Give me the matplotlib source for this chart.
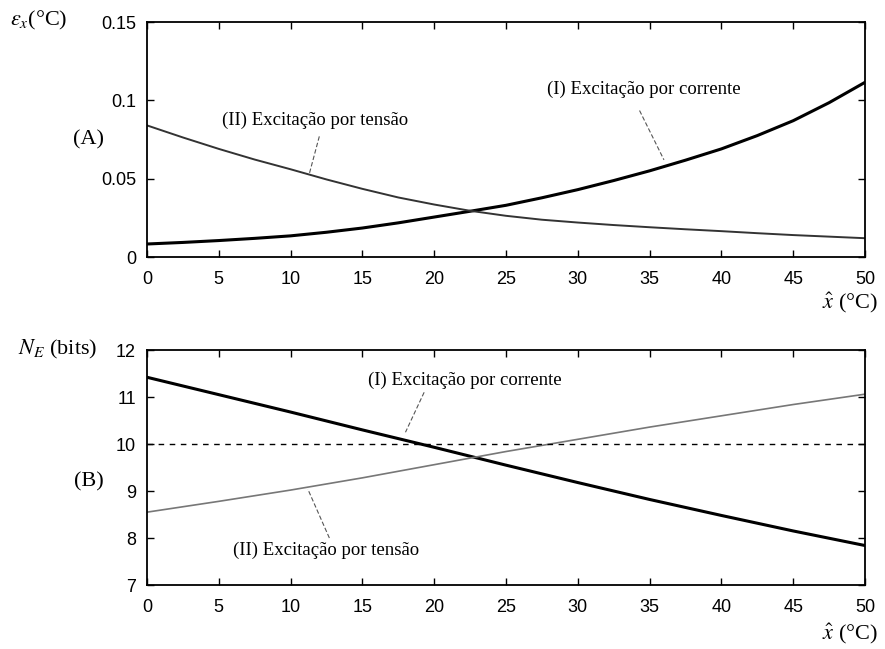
import matplotlib
matplotlib.use("Agg")
import matplotlib.pyplot as plt

# temperature axis (degC), panel A read every 2.5 degC
x_a = [0, 2.5, 5, 7.5, 10, 12.5, 15, 17.5, 20, 22.5, 25,
       27.5, 30, 32.5, 35, 37.5, 40, 42.5, 45, 47.5, 50]

# (A) error eps_x (degC)
eps_corrente = [0.0083, 0.0093, 0.0105, 0.0119, 0.0135, 0.0158, 0.0185, 0.0218, 0.0255, 0.0292, 0.033,
                0.0378, 0.043, 0.0488, 0.055, 0.0618, 0.069, 0.0775, 0.087, 0.0985, 0.1115]
eps_tensao = [0.084, 0.0763, 0.069, 0.0622, 0.056, 0.0495, 0.0435, 0.038, 0.0335, 0.0295, 0.0263,
              0.0238, 0.022, 0.0204, 0.019, 0.0177, 0.0165, 0.0152, 0.014, 0.013, 0.012]

# (B) number of bits N_E
x_b = [0, 5, 10, 15, 20, 25, 30, 35, 40, 45, 50]
bits_corrente = [11.42, 11.05, 10.68, 10.30, 9.93, 9.55, 9.18, 8.82, 8.48, 8.15, 7.84]
bits_tensao = [8.55, 8.78, 9.02, 9.28, 9.56, 9.84, 10.10, 10.36, 10.60, 10.84, 11.06]
bits_ref = 10

xticks = [0, 5, 10, 15, 20, 25, 30, 35, 40, 45, 50]
yticks_a = [0, 0.05, 0.1, 0.15]
yticklabels_a = ['0', '0.05', '0.1', '0.15']
yticks_b = [7, 8, 9, 10, 11, 12]

lbl_corrente = '(I) Excitação por corrente'
lbl_tensao = '(II) Excitação por tensão'

plt.rcParams['mathtext.fontset'] = 'stix'
tick_font = 'Liberation Sans'
serif = 'Liberation Serif'

fig = plt.figure(figsize=(8.85, 6.49), dpi=100)
ax1 = fig.add_axes([0.1661, 0.6040, 0.8113, 0.3621])
ax2 = fig.add_axes([0.1661, 0.0986, 0.8113, 0.3621])


def style_axes(ax):
    ax.set_xlim(0, 50)
    ax.set_xticks(xticks)
    ax.tick_params(direction='in', top=True, right=True, length=5, width=1,
                   labelsize=13)
    ax.tick_params(axis='x', pad=10)
    ax.tick_params(axis='y', pad=8)
    for lab in ax.get_xticklabels() + ax.get_yticklabels():
        lab.set_fontfamily(tick_font)
    for s in ax.spines.values():
        s.set_linewidth(1.3)


# ---- panel A
ax1.plot(x_a, eps_corrente, color='black', lw=2.2)
ax1.plot(x_a, eps_tensao, color='#333333', lw=1.4)
ax1.set_ylim(0, 0.15)
ax1.set_yticks(yticks_a)
ax1.set_yticklabels(yticklabels_a)
style_axes(ax1)

ax1.text(34.6, 0.107, lbl_corrente, ha='center', va='center', fontsize=13.5, family=serif)
ax1.plot([34.3, 36.0], [0.0935, 0.062], color='#555555', lw=0.8, ls=(0, (4, 2)))
ax1.text(11.7, 0.0874, lbl_tensao, ha='center', va='center', fontsize=13.5, family=serif)
ax1.plot([12.0, 11.3], [0.0770, 0.053], color='#555555', lw=0.8, ls=(0, (4, 2)))

# ---- panel B
ax2.plot(x_b, bits_corrente, color='black', lw=2.2)
ax2.plot(x_b, bits_tensao, color='#777777', lw=1.2)
ax2.axhline(bits_ref, color='black', lw=1.0, ls=(0, (4, 4)))
ax2.set_ylim(7, 12)
ax2.set_yticks(yticks_b)
style_axes(ax2)

ax2.text(22.1, 11.36, lbl_corrente, ha='center', va='center', fontsize=13.5, family=serif)
ax2.plot([19.3, 18.0], [11.1, 10.25], color='#555555', lw=0.8, ls=(0, (4, 2)))
ax2.text(12.5, 7.74, lbl_tensao, ha='center', va='center', fontsize=13.5, family=serif)
ax2.plot([12.7, 11.2], [8.0, 9.04], color='#555555', lw=0.8, ls=(0, (4, 2)))

# ---- axis labels (placed like the original scan)
fig.text(0.011, 0.969, r'$\varepsilon_x$(°C)', fontsize=16, family=serif, va='center')
fig.text(0.020, 0.461, r'$N_E$ (bits)', fontsize=16, family=serif, va='center')
fig.text(0.100, 0.784, '(A)', fontsize=16, family=serif, ha='center', va='center')
fig.text(0.100, 0.257, '(B)', fontsize=16, family=serif, ha='center', va='center')
fig.text(0.992, 0.534, r'$\hat{x}$ (°C)', fontsize=16, family=serif, ha='right', va='center')
fig.text(0.992, 0.024, r'$\hat{x}$ (°C)', fontsize=16, family=serif, ha='right', va='center')

fig.savefig('out.png', dpi=100)
